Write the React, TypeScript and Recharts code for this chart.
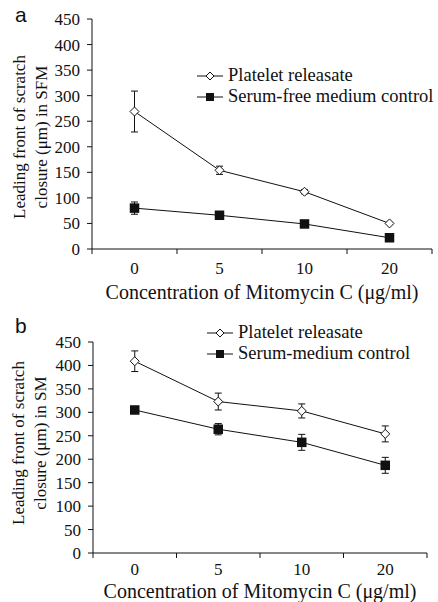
import { LineChart, Line, XAxis, YAxis, ErrorBar, Legend, Label } from 'recharts';

const concentrations = ['0', '5', '10', '20'];
const yTicks = [0, 50, 100, 150, 200, 250, 300, 350, 400, 450];

// panel a: serum-free medium
const sfmPlatelet = [269, 154, 112, 50];
const sfmPlateletErr = [40, 8, 4, 2];
const sfmControl = [80, 66, 49, 22];
const sfmControlErr = [12, 3, 3, 2];

// panel b: serum medium
const smPlatelet = [409, 323, 303, 254];
const smPlateletErr = [22, 18, 15, 17];
const smControl = [305, 264, 236, 187];
const smControlErr = [6, 12, 17, 17];

const SERIF = '"Liberation Serif", "Times New Roman", Times, serif';
const INK = '#111';

const buildRows = (pl: number[], plErr: number[], ct: number[], ctErr: number[]) =>
  concentrations.map((c, i) => ({
    conc: c,
    platelet: pl[i],
    plateletErr: plErr[i],
    control: ct[i],
    controlErr: ctErr[i],
  }));

const Diamond = (props: any) => {
  const { cx, cy, index } = props;
  if (cx == null || cy == null) return <g key={ index } />;
  const r = 4.5;
  return (
    <path
      key={ index }
      d={ `M${ cx },${ cy - r}L${ cx + r },${ cy }L${ cx },${ cy + r }L${ cx - r },${ cy }Z` }
      fill="#fff"
      stroke={ INK }
      strokeWidth={ 1 }
    />
  );
};

const Square = (props: any) => {
  const { cx, cy, index } = props;
  if (cx == null || cy == null) return <g key={ index } />;
  const r = 4.75;
  return <rect key={ index } x={ cx - r } y={ cy - r } width={ 2 * r } height={ 2 * r } fill={ INK } />;
};

const BandTick = (props: any) => {
  const { x, y, payload, index, dyLabel } = props;
  const half = payload.offset || 42;
  const last = index === concentrations.length - 1;
  return (
    <g>
      <line x1={ x - half } x2={ x - half } y1={ y } y2={ y + 5 } stroke={ INK } />
      { last && <line x1={ x + half } x2={ x + half } y1={ y } y2={ y + 5 } stroke={ INK } /> }
      <text x={ x } y={ y + dyLabel } textAnchor="middle" style={ { fontFamily: SERIF, fontSize: 17 } } fill={ INK }>
        { payload.value }
      </text>
    </g>
  );
};

const LegendBox = ({ labels }: { labels: string[] }) => (
  <div style={ { fontFamily: SERIF, fontSize: 18.5, color: INK, lineHeight: '21px' } }>
    { labels.map((label, i) => (
      <div key={ label } style={ { display: 'flex', alignItems: 'center', height: 21, whiteSpace: 'nowrap' } }>
        <svg width={ 26 } height={ 12 } style={ { display: 'block' } }>
          <line x1={ 0 } x2={ 26 } y1={ 6 } y2={ 6 } stroke={ INK } />
          { i === 0
            ? <path d="M13,2L17,6L13,10L9,6Z" fill="#fff" stroke={ INK } />
            : <rect x={ 9 } y={ 2 } width={ 8 } height={ 8 } fill={ INK } /> }
        </svg>
        <span style={ { marginLeft: 5 } }>{ label }</span>
      </div>
    )) }
  </div>
);

type PanelProps = {
  tag: string;
  top: number;
  height: number;
  yAxisWidth: number;
  marginTop: number;
  marginRight: number;
  xAxisHeight: number;
  tickDy: number;
  titleDy: number;
  yTitle: string[];
  yTitleX: number[];
  yTitleCY: number;
  legendLabels: string[];
  legendTop: number;
  legendLeft: number;
  tagY: number;
  rows: any[];
};

const Panel = (p: PanelProps) => (
  <div style={ { position: 'absolute', left: 0, top: p.top, width: 438, height: p.height } }>
    <LineChart
      width={ 438 }
      height={ p.height }
      data={ p.rows }
      margin={ { top: p.marginTop, right: p.marginRight, bottom: 0, left: 0 } }
    >
      <XAxis
        dataKey="conc"
        scale="band"
        height={ p.xAxisHeight }
        axisLine={ { stroke: INK } }
        tickLine={ false }
        tickSize={ 0 }
        tickMargin={ 0 }
        interval={ 0 }
        tick={ <BandTick dyLabel={ p.tickDy } /> }
      >
        <Label
          content={ (lp: any) => {
            const vb = lp.viewBox || {};
            return (
              <text
                x={ vb.x + vb.width / 2 }
                y={ vb.y + p.titleDy }
                textAnchor="middle"
                style={ { fontFamily: SERIF, fontSize: 20 } }
                fill={ INK }
              >
                Concentration of Mitomycin C (μg/ml)
              </text>
            );
          } }
        />
      </XAxis>
      <YAxis
        width={ p.yAxisWidth }
        domain={ [0, 450] }
        ticks={ yTicks }
        interval={ 0 }
        axisLine={ { stroke: INK } }
        tickLine={ { stroke: INK } }
        tickSize={ 5 }
        tickMargin={ 7 }
        tick={ { fill: INK, style: { fontFamily: SERIF, fontSize: 17 } } }
      >
        <Label
          content={ () => (
            <g style={ { fontFamily: SERIF, fontSize: 17 } } fill={ INK }>
              { p.yTitle.map((line, i) => (
                <text
                  key={ line }
                  x={ p.yTitleX[i] }
                  y={ p.yTitleCY }
                  textAnchor="middle"
                  transform={ `rotate(-90, ${ p.yTitleX[i] }, ${ p.yTitleCY })` }
                >
                  { line }
                </text>
              )) }
            </g>
          ) }
        />
      </YAxis>
      <Legend
        layout="vertical"
        align="center"
        verticalAlign="middle"
        wrapperStyle={ { top: p.legendTop, left: p.legendLeft, width: 'auto' } }
        content={ () => <LegendBox labels={ p.legendLabels } /> }
      />
      <Line
        dataKey="platelet"
        stroke={ INK }
        strokeWidth={ 1 }
        dot={ Diamond }
        activeDot={ false }
        isAnimationActive={ false }
      >
        <ErrorBar dataKey="plateletErr" direction="y" width={ 3.5 } stroke={ INK } strokeWidth={ 1 } />
      </Line>
      <Line
        dataKey="control"
        stroke={ INK }
        strokeWidth={ 1 }
        dot={ Square }
        activeDot={ false }
        isAnimationActive={ false }
      >
        <ErrorBar dataKey="controlErr" direction="y" width={ 3.5 } stroke={ INK } strokeWidth={ 1 } />
      </Line>
    </LineChart>
    <div
      style={ {
        position: 'absolute',
        left: 15,
        top: p.tagY,
        fontFamily: '"Liberation Sans", Arial, sans-serif',
        fontSize: 21,
        lineHeight: '21px',
        color: INK,
      } }
    >
      { p.tag }
    </div>
  </div>
);

const App = () => (
  <div style={ { position: 'absolute', left: 0, top: 0, width: 438, height: 602, background: '#fff' } }>
    <Panel
      tag="a"
      top={ 0 }
      height={ 305 }
      yAxisWidth={ 92 }
      marginTop={ 19 }
      marginRight={ 6 }
      xAxisHeight={ 56 }
      tickDy={ 25 }
      titleDy={ 50 }
      yTitle={ ['Leading front of scratch', 'closure (μm) in SFM'] }
      yTitleX={ [25, 47] }
      yTitleCY={ 137 }
      legendLabels={ ['Platelet releasate', 'Serum-free medium control'] }
      legendTop={ 65 }
      legendLeft={ 197 }
      tagY={ 4 }
      rows={ buildRows(sfmPlatelet, sfmPlateletErr, sfmControl, sfmControlErr) }
    />
    <Panel
      tag="b"
      top={ 305 }
      height={ 297 }
      yAxisWidth={ 93 }
      marginTop={ 37 }
      marginRight={ 11 }
      xAxisHeight={ 49 }
      tickDy={ 22 }
      titleDy={ 45 }
      yTitle={ ['Leading front of scratch', 'closure (μm) in SM'] }
      yTitleX={ [24, 46] }
      yTitleCY={ 138 }
      legendLabels={ ['Platelet releasate', 'Serum-medium control'] }
      legendTop={ 17 }
      legendLeft={ 207 }
      tagY={ 10 }
      rows={ buildRows(smPlatelet, smPlateletErr, smControl, smControlErr) }
    />
  </div>
);

export default App;
